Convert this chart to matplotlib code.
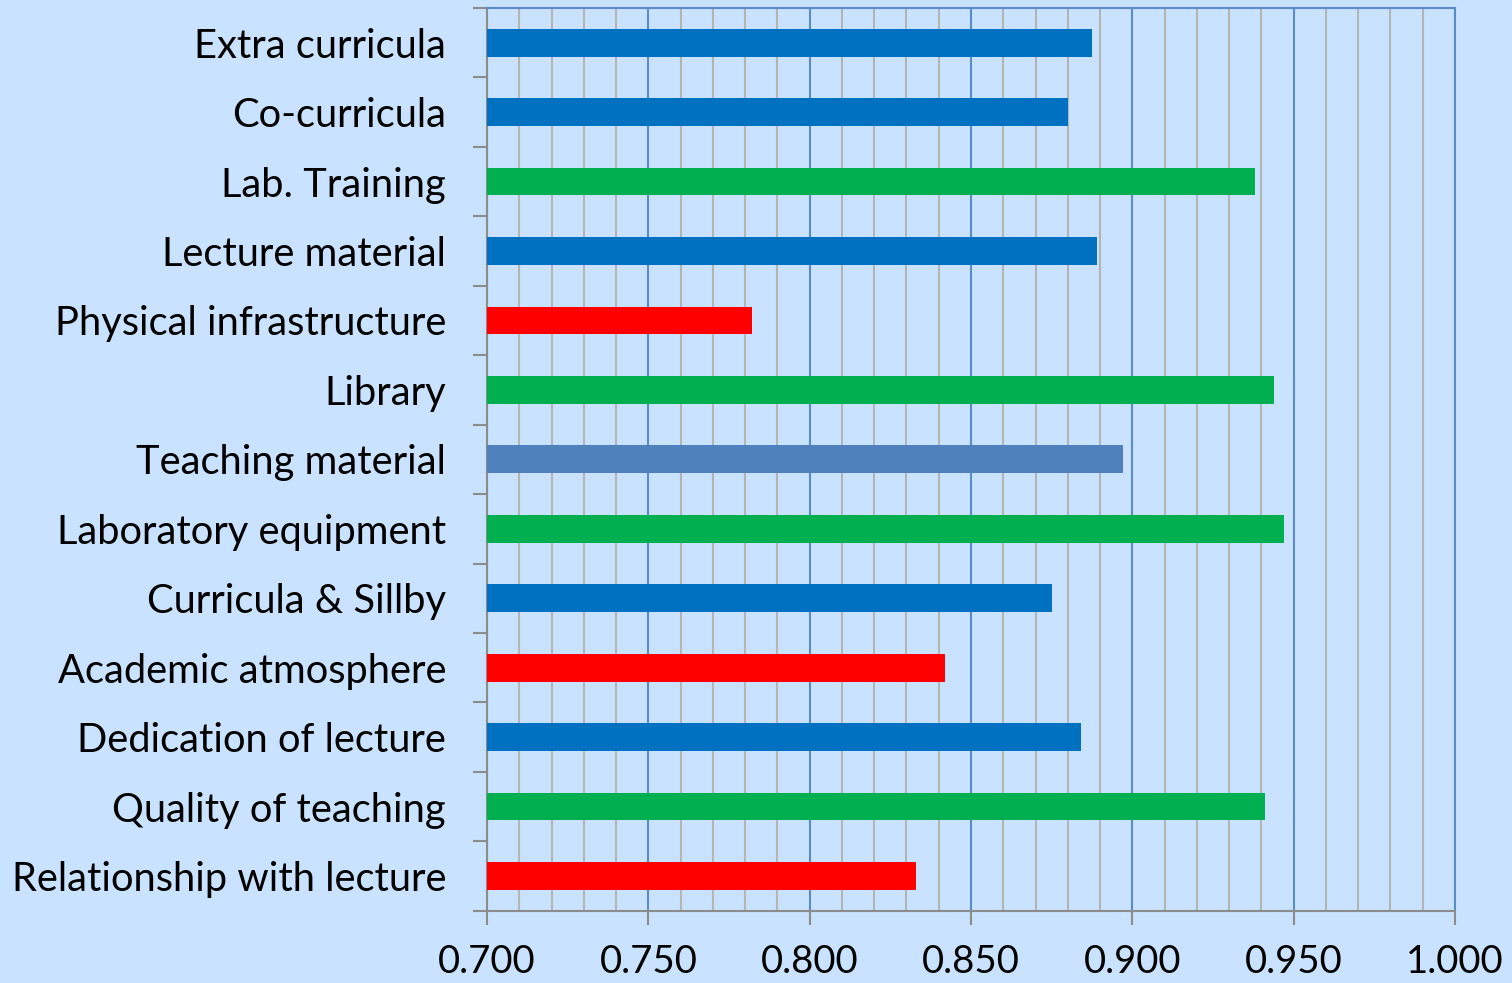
import numpy as np
import matplotlib.pyplot as plt
from matplotlib.ticker import MultipleLocator, FormatStrFormatter

categories = ['Relationship with lecture', 'Quality of teaching', 'Dedication of lecture',
              'Academic atmosphere', 'Curricula & Sillby', 'Laboratory equipment',
              'Teaching material', 'Library', 'Physical infrastructure',
              'Lecture material', 'Lab. Training', 'Co-curricula', 'Extra curricula']
values = [0.833, 0.941, 0.884, 0.842, 0.875, 0.947, 0.897, 0.944, 0.782,
          0.889, 0.938, 0.880, 0.8875]
colors = ['#FF0000', '#00B050', '#0070C0', '#FF0000', '#0070C0', '#00B050',
          '#4F81BD', '#00B050', '#FF0000', '#0070C0', '#00B050', '#0070C0', '#0070C0']

bg = '#C8E2FF'
plt.rcParams['font.family'] = ['Lato', 'DejaVu Sans']

fig = plt.figure(figsize=(15.12, 9.83), dpi=100, facecolor=bg)
ax = fig.add_axes([487 / 1512, 1 - 910.7 / 983, (1455 - 487) / 1512, (910.7 - 8) / 983])
ax.set_facecolor(bg)

y = np.arange(len(categories))
ax.barh(y, np.array(values) - 0.7, left=0.7, height=0.40, color=colors, zorder=3)

ax.set_xlim(0.7, 1.0)
ax.set_ylim(-0.5, len(categories) - 0.5)
ax.xaxis.set_major_locator(MultipleLocator(0.05))
ax.xaxis.set_minor_locator(MultipleLocator(0.01))
ax.xaxis.set_major_formatter(FormatStrFormatter('%.3f'))
ax.grid(which='minor', axis='x', color='#B4B4B4', linewidth=1.5, zorder=1)
ax.grid(which='major', axis='x', color='#5B8CC8', linewidth=1.5, zorder=2)

ax.set_yticks(y)
ax.set_yticklabels(categories)
ax.set_yticks(np.arange(-0.5, len(categories)), minor=True)
ax.tick_params(axis='y', which='major', length=0, pad=29.5, labelsize=28.7)
ax.tick_params(axis='y', which='minor', length=10, width=1.5, color='#8C8C8C')
ax.tick_params(axis='x', which='major', length=10, width=1.5, color='#8C8C8C',
               pad=14, labelsize=27.5)
ax.tick_params(axis='x', which='minor', length=0)

for s in ['left', 'bottom']:
    ax.spines[s].set_color('#8C8C8C')
    ax.spines[s].set_linewidth(1.5)
for s in ['top', 'right']:
    ax.spines[s].set_color('#5B8CC8')
    ax.spines[s].set_linewidth(1.5)

fig.savefig('out.png', dpi=100, facecolor=bg)
